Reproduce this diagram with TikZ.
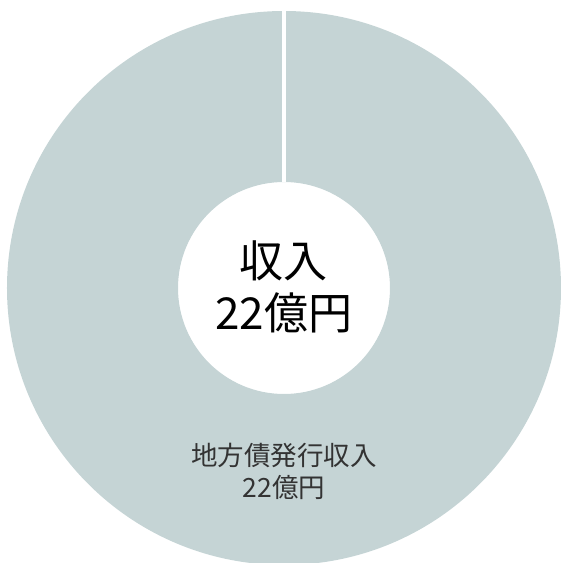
\documentclass[tikz,border=0pt]{standalone}
\usepackage{fontspec}
\setmainfont{Noto Sans CJK JP}
\usetikzlibrary{calc}
\definecolor{ringgray}{RGB}{197,212,213}
\definecolor{labelgray}{RGB}{51,51,51}

\begin{document}
\begin{tikzpicture}[x=1pt, y=1pt]
			\useasboundingbox (-284,-275) rectangle (277,288);
			\fill[ringgray, even odd rule] (0,0) circle (277) (0,0) circle (106);
			\node[circle, minimum size=554pt, inner sep=0pt] (outer) at (0,0) {};
			\node[circle, minimum size=212pt, inner sep=0pt] (inner) at (0,0) {};
			\draw[white, line width=4pt] (outer.north) -- (inner.north);
			\node[align=center, font=\fontsize{44}{52}\selectfont] (total) at (0,1) {収入\\22億円};
			\node[align=center, text=labelgray, font=\fontsize{26.5}{32}\selectfont] (bond) at (0,-183) {地方債発行収入\\22億円};
		\end{tikzpicture}
\end{document}
